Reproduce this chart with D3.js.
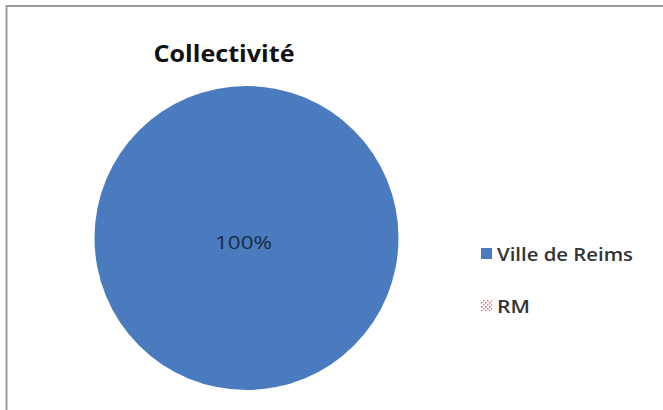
<!DOCTYPE html>
<html><head><meta charset="utf-8">
<script src="https://cdn.jsdelivr.net/npm/d3@7"></script>
<style>body{margin:0;background:#fff;} svg{display:block;}</style>
</head><body>
<script>
const categories = ["Ville de Reims", "RM"];
const values = [100, 0];
const title = "Collectivité";

const W = 663, H = 410;
const svg = d3.select("body").append("svg").attr("width", W).attr("height", H);
svg.append("rect").attr("width", W).attr("height", H).attr("fill", "#fff");
// frame
svg.append("line").attr("x1", 6).attr("x2", W).attr("y1", 6).attr("y2", 6).attr("stroke", "#9a9a9a").attr("stroke-width", 2);
svg.append("line").attr("x1", 6.5).attr("x2", 6.5).attr("y1", 5).attr("y2", H).attr("stroke", "#9a9a9a").attr("stroke-width", 2);

const defs = svg.append("defs");
const pat = defs.append("pattern").attr("id", "rmpat").attr("patternUnits", "userSpaceOnUse").attr("width", 4).attr("height", 4);
pat.append("rect").attr("width", 4).attr("height", 4).attr("fill", "#fff");
pat.append("rect").attr("x", 0).attr("y", 0).attr("width", 1.5).attr("height", 1.5).attr("fill", "#e06060");
pat.append("rect").attr("x", 2).attr("y", 2).attr("width", 1.5).attr("height", 1.5).attr("fill", "#e08080");

const color = d3.scaleOrdinal().domain(categories).range(["#4a7bbf", "url(#rmpat)"]);

svg.append("text").attr("x", 224).attr("y", 62).attr("text-anchor", "middle")
  .attr("font-family", "'Open Sans', sans-serif").attr("font-weight", "bold").attr("font-size", 23)
  .attr("textLength", 141).attr("lengthAdjust", "spacingAndGlyphs")
  .attr("fill", "#111").text(title);

const cx = 246.5, cy = 238, r = 152;
const pie = d3.pie().sort(null).value(d => d.v);
const data = categories.map((c, i) => ({c, v: values[i]}));
const arcs = pie(data);
const arc = d3.arc().innerRadius(0).outerRadius(r);
const g = svg.append("g").attr("transform", `translate(${cx},${cy})`);
g.selectAll("path").data(arcs.filter(a => a.data.v > 0)).join("path")
  .attr("d", arc).attr("fill", d => color(d.data.c));
const total = d3.sum(values);
g.selectAll("text.lbl").data(arcs.filter(a => a.data.v > 0)).join("text")
  .attr("class", "lbl")
  .attr("transform", d => {
    const p = (d.endAngle - d.startAngle) >= 2 * Math.PI - 1e-6 ? [0, 0] : arc.centroid(d);
    return `translate(${p[0] - 3},${p[1] + 11})`;
  })
  .attr("text-anchor", "middle").attr("font-family", "'Open Sans', sans-serif").attr("font-size", 19)
  .attr("textLength", 57).attr("lengthAdjust", "spacingAndGlyphs")
  .attr("fill", "#1c2a40").text(d => Math.round(d.data.v / total * 100) + "%");

// legend
const ly = d3.scalePoint().domain(categories).range([254, 306]);
const lg = svg.append("g");
const items = lg.selectAll("g").data(categories).join("g").attr("transform", d => `translate(481,${ly(d)})`);
items.append("rect").attr("x", 0).attr("y", -6).attr("width", 11).attr("height", 11)
  .attr("fill", d => color(d));
items.append("text").attr("x", 16).attr("y", 6.5).attr("font-family", "'Open Sans', sans-serif")
  .attr("font-size", 18).attr("font-weight", 600).attr("fill", "#333")
  .attr("textLength", (d, i) => i === 0 ? 136 : 33).attr("lengthAdjust", "spacingAndGlyphs")
  .text(d => d);
</script>
</body></html>
